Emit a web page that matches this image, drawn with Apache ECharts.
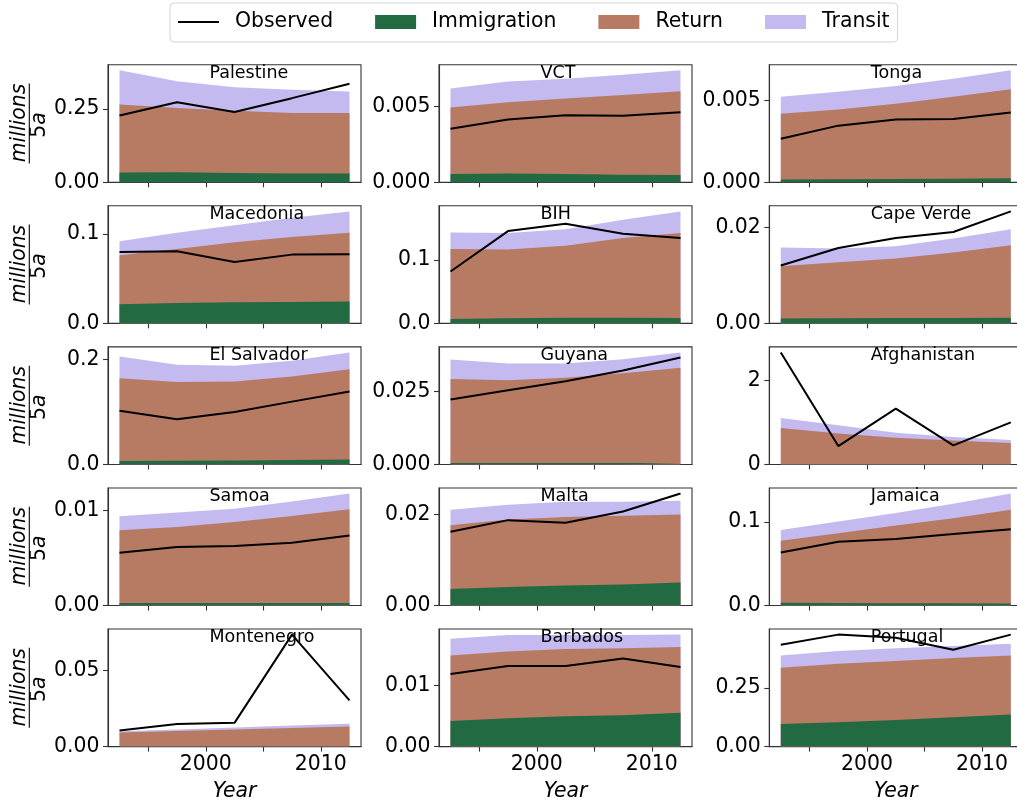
<!DOCTYPE html>
<html>
<head>
<meta charset="utf-8">
<script src="https://cdn.jsdelivr.net/npm/echarts@6/dist/echarts.min.js"></script>
<style>
  html, body { margin: 0; padding: 0; background: #fff; }
  #chart { width: 1017px; height: 803px; }
</style>
</head>
<body>
<div id="chart"></div>
<script>
// ---------------- DATA ----------------
const years = [1992.5, 1997.5, 2002.5, 2007.5, 2012.5];
const countries = ['Palestine', 'VCT', 'Tonga', 'Macedonia', 'BIH', 'Cape Verde',
  'El Salvador', 'Guyana', 'Afghanistan', 'Samoa', 'Malta', 'Jamaica',
  'Montenegro', 'Barbados', 'Portugal'];

// millions per 5 years, one row per country (same order as countries)
const immigration = [
  [0.033, 0.034, 0.032, 0.030, 0.030],
  [0.00055, 0.00058, 0.00055, 0.0005, 0.00048],
  [0.00017, 0.00018, 0.0002, 0.00022, 0.00025],
  [0.0213, 0.0228, 0.0236, 0.024, 0.0243],
  [0.007, 0.008, 0.009, 0.0088, 0.0085],
  [0.00104, 0.00106, 0.0011, 0.00114, 0.00118],
  [0.0064, 0.007, 0.0076, 0.0085, 0.0095],
  [0.0005, 0.0005, 0.0005, 0.0005, 0.0005],
  [0.005, 0.005, 0.005, 0.005, 0.005],
  [0.00028, 0.00028, 0.00028, 0.00028, 0.00028],
  [0.00365, 0.00409, 0.00438, 0.0046, 0.00504],
  [0.0032, 0.003, 0.0028, 0.0026, 0.0024],
  [0.0001, 0.0001, 0.0001, 0.0001, 0.0001],
  [0.00418, 0.00462, 0.00495, 0.00511, 0.0055],
  [0.097, 0.104, 0.114, 0.126, 0.137]
];
const returnMig = [
  [0.232, 0.219, 0.212, 0.206, 0.206],
  [0.00436, 0.00468, 0.00496, 0.00523, 0.00551],
  [0.00401, 0.00427, 0.0046, 0.00501, 0.00543],
  [0.0547, 0.0603, 0.067, 0.0726, 0.0768],
  [0.1105, 0.109, 0.1138, 0.1262, 0.1344],
  [0.0109, 0.01172, 0.01244, 0.01365, 0.01514],
  [0.1579, 0.1503, 0.1504, 0.159, 0.172],
  [0.02872, 0.02827, 0.02907, 0.03066, 0.03249],
  [0.86, 0.733, 0.63, 0.566, 0.503],
  [0.00764, 0.00799, 0.00852, 0.00916, 0.00986],
  [0.01401, 0.01481, 0.01504, 0.01511, 0.01496],
  [0.0746, 0.0837, 0.0932, 0.1022, 0.1125],
  [0.0092, 0.0102, 0.0112, 0.0121, 0.0131],
  [0.01066, 0.01088, 0.01093, 0.01093, 0.01071],
  [0.24, 0.25, 0.252, 0.253, 0.253]
];
const transit = [
  [0.117, 0.092, 0.080, 0.080, 0.074],
  [0.00126, 0.00137, 0.0013, 0.00134, 0.00137],
  [0.00105, 0.00108, 0.00108, 0.0011, 0.00116],
  [0.0158, 0.018, 0.0191, 0.0214, 0.024],
  [0.0264, 0.0259, 0.0262, 0.029, 0.0343],
  [0.00389, 0.00285, 0.00257, 0.00292, 0.00333],
  [0.0414, 0.0325, 0.0299, 0.03, 0.0319],
  [0.00662, 0.0057, 0.0049, 0.0048, 0.00525],
  [0.238, 0.191, 0.119, 0.08, 0.071],
  [0.00148, 0.00152, 0.00141, 0.00151, 0.00166],
  [0.00336, 0.00322, 0.00335, 0.00306, 0.00299],
  [0.0129, 0.0141, 0.0149, 0.0174, 0.0194],
  [0.0008, 0.001, 0.0013, 0.0016, 0.0018],
  [0.00274, 0.00269, 0.00231, 0.00215, 0.00203],
  [0.053, 0.055, 0.055, 0.051, 0.05]
];
const observed = [
  [0.228, 0.273, 0.240, 0.287, 0.336],
  [0.00352, 0.00412, 0.00441, 0.00438, 0.0046],
  [0.00266, 0.00346, 0.00383, 0.00387, 0.00426],
  [0.0798, 0.0805, 0.0685, 0.0768, 0.0772],
  [0.082, 0.146, 0.1577, 0.1418, 0.135],
  [0.01208, 0.01576, 0.01785, 0.0191, 0.0234],
  [0.1025, 0.086, 0.1, 0.1197, 0.1389],
  [0.02215, 0.02534, 0.02842, 0.03208, 0.03653],
  [2.66, 0.437, 1.325, 0.452, 1.0],
  [0.00556, 0.00616, 0.00627, 0.00662, 0.00739],
  [0.0162, 0.01876, 0.01818, 0.02066, 0.0246],
  [0.0637, 0.0766, 0.0798, 0.0859, 0.0915],
  [0.0106, 0.0148, 0.0156, 0.0735, 0.0304],
  [0.01181, 0.01313, 0.01313, 0.01434, 0.01297],
  [0.436, 0.479, 0.466, 0.414, 0.479]
];

// tick values and labels
const yTickVals = [[0, 0.25], [0, 0.005], [0, 0.005], [0, 0.1], [0, 0.1], [0, 0.02],
  [0, 0.2], [0, 0.025], [0, 2], [0, 0.01], [0, 0.02], [0, 0.1], [0, 0.05], [0, 0.01], [0, 0.25]];
const yTickLabels = [['0.00', '0.25'], ['0.000', '0.005'], ['0.000', '0.005'], ['0.0', '0.1'],
  ['0.0', '0.1'], ['0.00', '0.02'], ['0.0', '0.2'], ['0.000', '0.025'], ['0', '2'],
  ['0.00', '0.01'], ['0.00', '0.02'], ['0.0', '0.1'], ['0.00', '0.05'], ['0.00', '0.01'], ['0.00', '0.25']];
const xTickVals = [1995, 2000, 2005, 2010];
const xLabelVals = [2000, 2010];
const xLabels = ['2000', '2010'];

// ---------------- STYLE / LAYOUT ----------------
const COLORS = { Immigration: '#226a42', Return: '#b77a62', Transit: '#c4baef', Observed: '#000000' };
const FONT = 'DejaVu Sans';
const colLeft = [108, 439, 769.3];
const gridW = 253;
const gridH = 117.6;
const rowTop0 = 64.7;
const rowStep = 141.08;
const spine = '#333333';

const grids = [], xAxes = [], yAxes = [], series = [], graphics = [];

countries.forEach((name, i) => {
  const r = Math.floor(i / 3), c = i % 3;
  const left = colLeft[c], top = rowTop0 + r * rowStep;
  grids.push({ left: left, top: top, width: gridW, height: gridH, show: true,
    borderColor: spine, borderWidth: 1.1, backgroundColor: 'transparent',
    containLabel: false, outerBoundsMode: 'none' });

  // cumulative (stacked) tops, computed from the component arrays
  const cumImm = immigration[i].slice();
  const cumRet = years.map((y, k) => immigration[i][k] + returnMig[i][k]);
  const cumTra = years.map((y, k) => cumRet[k] + transit[i][k]);
  let ymax = 0;
  years.forEach((y, k) => { ymax = Math.max(ymax, cumTra[k], observed[i][k]); });
  ymax *= 1.05;

  xAxes.push({
    gridIndex: i, type: 'value', min: 1991.5, max: 2013.5,
    axisLine: { show: true, onZero: false, lineStyle: { color: spine, width: 1.1 } },
    axisTick: { show: true, customValues: xTickVals, length: 5, lineStyle: { color: spine, width: 1.1 } },
    axisLabel: { show: r === 4, customValues: xLabelVals, margin: 8, fontSize: 20.4, color: '#000', fontFamily: FONT,
      formatter: v => { const j = xLabelVals.findIndex(t => Math.abs(t - v) < 1e-6); return j >= 0 ? xLabels[j] : ''; } },
    splitLine: { show: false },
    name: r === 4 ? 'Year' : '', nameLocation: 'middle', nameGap: 35,
    nameTextStyle: { fontStyle: 'italic', fontSize: 20.4, color: '#000', fontFamily: FONT }
  });

  const tv = yTickVals[i], tl = yTickLabels[i];
  yAxes.push({
    gridIndex: i, type: 'value', min: 0, max: ymax,
    axisLine: { show: true, onZero: false, lineStyle: { color: spine, width: 1.1 } },
    axisTick: { show: true, customValues: tv, length: 5, lineStyle: { color: spine, width: 1.1 } },
    axisLabel: { show: true, customValues: tv, margin: 8.5, fontSize: 20.4, color: '#000', fontFamily: FONT,
      formatter: v => { const j = tv.findIndex(t => Math.abs(t - v) < 1e-9); return j >= 0 ? tl[j] : ''; } },
    splitLine: { show: false }
  });

  // draw the tallest layer first, then overlay lower layers (opaque fills => stacked look)
  const layers = [['Transit', cumTra], ['Return', cumRet], ['Immigration', cumImm]];
  layers.forEach(([sn, vals]) => {
    series.push({
      type: 'line', name: sn, xAxisIndex: i, yAxisIndex: i,
      data: years.map((y, k) => [y, vals[k]]),
      symbol: 'none', showSymbol: false, silent: true, z: 2,
      color: COLORS[sn],
      itemStyle: { color: COLORS[sn] },
      lineStyle: { width: 0, opacity: 0 },
      areaStyle: { color: COLORS[sn], opacity: 1, origin: 'start' }
    });
  });
  series.push({
    type: 'line', name: 'Observed', xAxisIndex: i, yAxisIndex: i,
    data: years.map((y, k) => [y, observed[i][k]]),
    symbol: 'none', showSymbol: false, silent: true, z: 5,
    color: COLORS.Observed,
    itemStyle: { color: COLORS.Observed },
    lineStyle: { color: COLORS.Observed, width: 2 }
  });

  // panel title
  graphics.push({
    type: 'text', x: left + 101.5, y: top + 8.6, z: 4, silent: true,
    style: { text: name, fontSize: 17.5, fontFamily: FONT, fill: '#000', align: 'left', verticalAlign: 'middle' }
  });

  // y-axis label (fraction millions / 5a) on left column
  if (c === 0) {
    const cy = top + gridH / 2;
    graphics.push({
      type: 'text', x: 20, y: cy - 0.5, rotation: Math.PI / 2, z: 4, silent: true,
      style: { text: 'millions', fontSize: 20.4, fontStyle: 'italic', fontFamily: FONT, fill: '#000',
        align: 'center', verticalAlign: 'middle' }
    });
    graphics.push({
      type: 'line', z: 4, silent: true,
      shape: { x1: 29.3, y1: cy - 40, x2: 29.3, y2: cy + 40 },
      style: { stroke: '#000', lineWidth: 1.1 }
    });
    graphics.push({
      type: 'text', x: 40, y: cy + 1.5, rotation: Math.PI / 2, z: 4, silent: true,
      style: { text: '{n|5}{i|a}', fontSize: 20.4, fontFamily: FONT, fill: '#000',
        align: 'center', verticalAlign: 'middle',
        rich: { n: { fontSize: 20.4, fontFamily: FONT, fill: '#000' },
                i: { fontSize: 20.4, fontFamily: FONT, fontStyle: 'italic', fill: '#000' } } }
    });
  }
});

const chart = echarts.init(document.getElementById('chart'), null, { renderer: 'canvas' });
chart.setOption({
  animation: false,
  backgroundColor: '#ffffff',
  textStyle: { fontFamily: FONT },
  grid: grids,
  xAxis: xAxes,
  yAxis: yAxes,
  legend: {
    left: 170, top: 3, padding: [9, 8, 10, 8], itemGap: 42, itemWidth: 41, itemHeight: 14,
    borderColor: '#d5d5d5', borderWidth: 1, borderRadius: 4, backgroundColor: '#ffffff',
    selectedMode: false,
    itemStyle: { borderWidth: 0 },
    textStyle: { fontSize: 20.4, color: '#000', fontFamily: FONT, padding: [0, 0, 0, 11] },
    data: [
      { name: 'Observed', icon: 'path://M0,0L41,0L41,2L0,2Z' },
      { name: 'Immigration', icon: 'rect' },
      { name: 'Return', icon: 'rect' },
      { name: 'Transit', icon: 'rect' }
    ]
  },
  series: series,
  graphic: { elements: graphics }
});
</script>
</body>
</html>
